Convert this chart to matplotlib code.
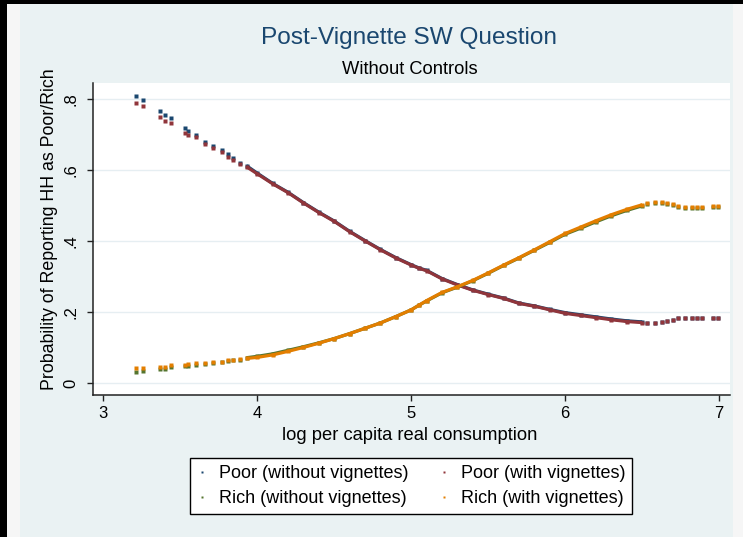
import matplotlib
matplotlib.use("Agg")
import matplotlib.pyplot as plt
from matplotlib.patches import Rectangle
import numpy as np

plt.rcParams['font.family'] = ['Liberation Sans', 'DejaVu Sans']
plt.rcParams['savefig.transparent'] = False

# ---------------- data ----------------
x_obs = [3.21, 3.256, 3.368, 3.40, 3.44, 3.53, 3.55, 3.60, 3.66, 3.714, 3.77, 3.81, 3.845, 3.89,
         3.93, 4.0, 4.1, 4.2, 4.3, 4.4, 4.5, 4.6, 4.7, 4.8, 4.9, 5.0, 5.05, 5.1, 5.2, 5.3, 5.4,
         5.5, 5.6, 5.7, 5.8, 5.9, 6.0, 6.1, 6.2, 6.3, 6.4, 6.5,
         6.53, 6.58, 6.626, 6.658, 6.70, 6.734, 6.777, 6.82, 6.853, 6.89, 6.96, 6.99]

poor_without = [.810, .798, .767, .756, .746, .718, .712, .699, .681, .668, .658, .646, .635, .622,
                .613, .592, .563, .538, .509, .482, .457, .428, .402, .377, .354, .334, .325, .318,
                .295, .278, .263, .251, .240, .226, .218, .208, .199, .193, .187, .181, .176, .173,
                .169, .170, .172, .175, .178, .183, .183, .183, .183, .183, .185, .185]
poor_with = [.789, .781, .749, .739, .734, .704, .699, .693, .673, .662, .652, .638, .629, .618,
             .610, .590, .562, .537, .508, .481, .456, .427, .401, .376, .353, .333, .324, .317,
             .294, .277, .262, .250, .239, .225, .217, .207, .197, .191, .185, .179, .174, .171,
             .169, .170, .172, .175, .178, .183, .183, .183, .183, .183, .185, .185]
rich_without = [.032, .036, .040, .040, .046, .048, .049, .052, .055, .057, .059, .063, .065, .067,
                .072, .076, .083, .093, .103, .114, .126, .140, .155, .170, .188, .207, .220, .232,
                .255, .271, .289, .310, .332, .353, .375, .397, .420, .437, .455, .472, .487, .500,
                .504, .507, .509, .506, .502, .497, .494, .495, .495, .495, .497, .497]
rich_with = [.044, .043, .047, .046, .052, .052, .053, .056, .058, .060, .061, .065, .067, .069,
             .070, .073, .080, .090, .101, .113, .126, .140, .155, .170, .188, .207, .220, .233,
             .256, .272, .290, .311, .333, .354, .376, .399, .422, .440, .458, .475, .490, .503,
             .507, .510, .512, .509, .505, .500, .497, .498, .498, .498, .500, .500]

labels = ["Poor (without vignettes)", "Poor (with vignettes)",
          "Rich (without vignettes)", "Rich (with vignettes)"]
colors = ["#1a476f", "#90353b", "#55752f", "#e37e00"]
series = [poor_without, poor_with, rich_without, rich_with]

x_ticks = [3, 4, 5, 6, 7]
y_ticks = [0, .2, .4, .6, .8]
y_ticklabels = ["0", ".2", ".4", ".6", ".8"]

# ---------------- figure ----------------
W, H = 743, 537
fig = plt.figure(figsize=(W / 100, H / 100), dpi=100)
fig.patch.set_facecolor("#f6f6f6")
fig.patch.set_alpha(1.0)

def fx(px):
    return px / W

def fy(py):
    return 1 - py / H

def frect(x0, y0, x1, y1, color, z):
    # rectangle given in pixel coordinates (top-left origin)
    fig.add_artist(Rectangle((fx(x0), fy(y1)), fx(x1) - fx(x0), fy(y0) - fy(y1),
                             transform=fig.transFigure, facecolor=color,
                             edgecolor="none", zorder=z))

# outer background and border
frect(0, 0, W, H, "#f6f6f6", -20)
frect(20, 4, 733, H, "#eaf2f3", -10)
frect(0, 0, 7, H, "#000000", -5)
frect(0, 0, W, 4, "#000000", -5)

ax = fig.add_axes([fx(93.3), fy(395), fx(730) - fx(93.3), fy(83) - fy(395)])
ax.set_zorder(1)
ax.set_facecolor("white")
ax.set_xlim(2.935, 7.07)
ax.set_ylim(-0.033, 0.846)

for yv in y_ticks:
    ax.axhline(yv, color="#e6eef2", lw=1.0, zorder=1)

x_arr = np.array(x_obs)
dense = (x_arr >= 3.92) & (x_arr <= 6.51)
for ys, c in zip(series, colors):
    y_arr = np.array(ys)
    ax.plot(x_arr[dense], y_arr[dense], color=c, lw=2.3, solid_capstyle="butt", zorder=3)
    ax.plot(x_arr, y_arr, ls="none", marker="s", ms=2.2, mec="none", mfc=c, zorder=3)

for s in ["top", "right"]:
    ax.spines[s].set_visible(False)
for s in ["left", "bottom"]:
    ax.spines[s].set_color("#222222")
    ax.spines[s].set_linewidth(1.1)

ax.set_xticks(x_ticks)
ax.set_xticklabels([str(v) for v in x_ticks])
ax.set_yticks(y_ticks)
ax.set_yticklabels(y_ticklabels, rotation=90, va="center")
ax.tick_params(axis="both", direction="out", length=4, width=1.0, color="#222222",
               labelsize=12, labelcolor="black")
ax.tick_params(axis="x", pad=4)
ax.tick_params(axis="y", pad=7)

# texts
fig.text(fx(409), fy(38), "Post-Vignette SW Question", ha="center", va="center",
         fontsize=17.6, color="#1a476f")
fig.text(fx(409.5), fy(70), "Without Controls", ha="center", va="center",
         fontsize=13.2, color="black")
fig.text(fx(50), fy(229), "Probability of Reporting HH as Poor/Rich", ha="center", va="center",
         rotation=90, fontsize=12.8, color="black")
fig.text(fx(410), fy(435), "log per capita real consumption", ha="center", va="center",
         fontsize=13.2, color="black")

# legend
handles = []
for c in colors:
    h, = ax.plot([], [], ls="none", marker="s", ms=1.6, mec="none", mfc=c)
    handles.append(h)
order = [0, 2, 1, 3]
leg = fig.legend([handles[i] for i in order], [labels[i] for i in order],
                 loc="center", bbox_to_anchor=(fx(411), fy(486)), ncol=2,
                 frameon=True, fancybox=False, edgecolor="black", facecolor="white",
                 fontsize=13, handlelength=0.6, handletextpad=0.6, columnspacing=1.7,
                 borderpad=0.4, labelspacing=0.45, framealpha=1)
leg.get_frame().set_linewidth(1.0)

fig.savefig("out.png", dpi=100, facecolor="#f6f6f6", transparent=False)
